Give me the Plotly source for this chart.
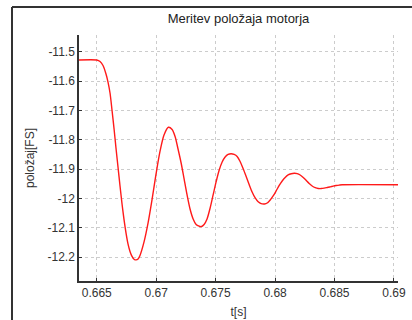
import plotly.graph_objects as go

title_text = "Meritev položaja motorja"
x_label = "t[s]"
y_label = "položaj[FS]"

t_values = [0.66351, 0.66500, 0.66528, 0.66553, 0.66578, 0.66595, 0.66612, 0.66629,
            0.66646, 0.66662, 0.66679, 0.66696, 0.66713, 0.66730, 0.66747, 0.66763,
            0.66780, 0.66797, 0.66814, 0.66831, 0.66848, 0.66864, 0.66898, 0.66932,
            0.66965, 0.66999, 0.67033, 0.67066, 0.67103, 0.67134, 0.67159, 0.67184,
            0.67210, 0.67235, 0.67260, 0.67285, 0.67311, 0.67336, 0.67361, 0.67378,
            0.67403, 0.67428, 0.67454, 0.67479, 0.67504, 0.67529, 0.67555, 0.67580,
            0.67605, 0.67630, 0.67656, 0.67681, 0.67706, 0.67731, 0.67757, 0.67782,
            0.67807, 0.67833, 0.67858, 0.67883, 0.67911, 0.67934, 0.67959, 0.67984,
            0.68009, 0.68035, 0.68060, 0.68085, 0.68110, 0.68136, 0.68161, 0.68186,
            0.68211, 0.68237, 0.68262, 0.68287, 0.68312, 0.68338, 0.68363, 0.68388,
            0.68413, 0.68439, 0.68464, 0.68489, 0.68514, 0.68540, 0.68565, 0.69034]
pos_values = [-11.5283, -11.5283, -11.5334, -11.5470, -11.5759, -11.6032, -11.6406, -11.7002,
              -11.7632, -11.8279, -11.8926, -11.9573, -12.0186, -12.0730, -12.1190, -12.1547,
              -12.1803, -12.1973, -12.2068, -12.2092, -12.2058, -12.1939, -12.1479, -12.0832,
              -12.0049, -11.9164, -11.8381, -11.7836, -11.7574, -11.7649, -11.7887, -11.8313,
              -11.8790, -11.9334, -11.9879, -12.0356, -12.0696, -12.0883, -12.0942, -12.0958,
              -12.0883, -12.0696, -12.0322, -11.9879, -11.9436, -11.9045, -11.8755, -11.8585,
              -11.8500, -11.8476, -11.8500, -11.8568, -11.8738, -11.8977, -11.9249, -11.9522,
              -11.9777, -11.9981, -12.0111, -12.0175, -12.0186, -12.0152, -12.0049, -11.9913,
              -11.9743, -11.9556, -11.9402, -11.9283, -11.9198, -11.9157, -11.9140, -11.9150,
              -11.9198, -11.9283, -11.9385, -11.9487, -11.9573, -11.9630, -11.9658, -11.9661,
              -11.9648, -11.9627, -11.9604, -11.9580, -11.9559, -11.9542, -11.9532, -11.9532]

x_ticks = [0.665, 0.67, 0.675, 0.68, 0.685, 0.69]
x_tick_text = ["0.665", "0.67", "0.675", "0.68", "0.685", "0.69"]
y_ticks = [-11.5, -11.6, -11.7, -11.8, -11.9, -12.0, -12.1, -12.2]
y_tick_text = ["-11.5", "-11.6", "-11.7", "-11.8", "-11.9", "-12", "-12.1", "-12.2"]

font_family = "Liberation Sans, Arial, sans-serif"

fig = go.Figure()
fig.add_trace(go.Scatter(
    x=t_values, y=pos_values, mode="lines",
    line=dict(color="#ff1a1a", width=1.4, shape="spline", smoothing=0.8),
    showlegend=False, hoverinfo="skip"))

axis_common = dict(
    showline=True, linecolor="#333333", linewidth=1.5, mirror=False,
    showgrid=True, gridcolor="#cccccc", griddash="dot", gridwidth=1,
    ticks="inside", ticklen=3, tickcolor="#333333", tickwidth=1,
    zeroline=False, automargin=False,
    tickfont=dict(family=font_family, size=12, color="#333333"),
)

fig.update_layout(
    width=412, height=320, autosize=False,
    margin=dict(l=79, r=14, t=35, b=39, pad=0),
    paper_bgcolor="white", plot_bgcolor="white",
    font=dict(family=font_family, color="#333333"),
    title=dict(text=title_text, x=0.5, xref="paper", xanchor="center",
               y=1 - 18 / 320, yanchor="middle",
               font=dict(family=font_family, size=13, color="#222222")),
    xaxis=dict(range=[0.66351, 0.69034], tickvals=x_ticks, ticktext=x_tick_text,
               title=dict(text=x_label, standoff=8,
                          font=dict(family=font_family, size=12, color="#333333")),
               **axis_common),
    yaxis=dict(range=[-12.281, -11.443], tickvals=y_ticks, ticktext=y_tick_text,
               title=dict(text=y_label, standoff=10,
                          font=dict(family=font_family, size=12, color="#333333")),
               **axis_common),
)

def px_x(p):
    return (p - 79) / 319

def px_y(p):
    return (281 - p) / 246

# outer window frame (cropped figure border)
fig.add_shape(type="line", xref="paper", yref="paper", x0=px_x(12), y0=px_y(7), x1=px_x(412), y1=px_y(7),
              line=dict(color="#333333", width=2))
fig.add_shape(type="line", xref="paper", yref="paper", x0=px_x(12), y0=px_y(7), x1=px_x(12), y1=px_y(320),
              line=dict(color="#333333", width=2))

fig.write_html("out.html", config={"displayModeBar": False, "responsive": False})
